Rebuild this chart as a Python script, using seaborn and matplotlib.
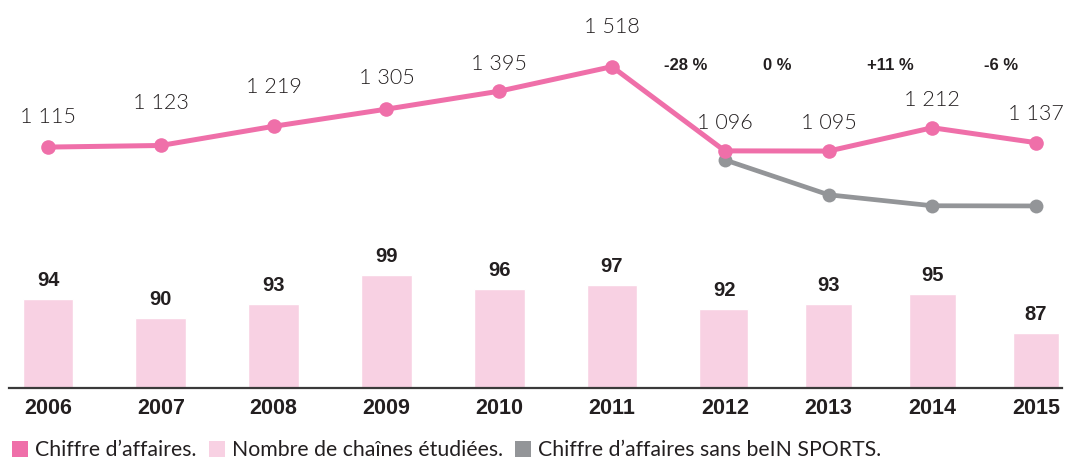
import matplotlib
matplotlib.use("Agg")
import matplotlib.pyplot as plt
from matplotlib.lines import Line2D
import seaborn as sns
import pandas as pd
import numpy as np

# Data
years = [2006, 2007, 2008, 2009, 2010, 2011, 2012, 2013, 2014, 2015]
revenue = [1115, 1123, 1219, 1305, 1395, 1518, 1096, 1095, 1212, 1137]
channels = [94, 90, 93, 99, 96, 97, 92, 93, 95, 87]
years_excl = [2012, 2013, 2014, 2015]
revenue_excl = [1051, 876, 821, 820]
legend_labels = ["Chiffre d\u2019affaires.", "Nombre de cha\u00eenes \u00e9tudi\u00e9es.",
                 "Chiffre d\u2019affaires sans beIN SPORTS."]

PINK = "#EF6FA9"
LIGHT_PINK = "#F8D1E3"
GREY = "#939598"
TEXT = "#231F20"
LIGHT_FONT = ["Lato", "DejaVu Sans"]
BOLD_FONT = ["Liberation Sans", "DejaVu Sans"]

sns.set_theme(style="white")
plt.rcParams["font.family"] = LIGHT_FONT

df = pd.DataFrame({"year": years, "revenue": revenue, "channels": channels})
df_excl = pd.DataFrame({"year": years_excl, "revenue": revenue_excl})

# The years after 2012 are set a little closer together on the time axis
R = 0.92


def fwd(x):
    x = np.asarray(x, dtype=float)
    return np.where(x <= 2012, x - 2006, 6 + (x - 2012) * R)


def inv(u):
    u = np.asarray(u, dtype=float)
    return np.where(u <= 6, u + 2006, 2012 + (u - 6) / R)


fig = plt.figure(figsize=(10.67, 4.59), dpi=100)
W, H = 1067, 459
x_lo, x_hi = 2005.654, 2015.25
left, width = 9 / W, 1053 / W

# Lower panel: number of channels
ax_bar = fig.add_axes([left, 1 - 388 / H, width, 158 / H])
sns.barplot(data=df, x="year", y="channels", native_scale=True, width=0.45,
            color=LIGHT_PINK, saturation=1, ax=ax_bar)
ax_bar.set_xscale("function", functions=(fwd, inv))
ax_bar.set_xlim(x_lo, x_hi)
ax_bar.set_ylim(75.6, 108.3)
ax_bar.set_xlabel("")
ax_bar.set_ylabel("")
ax_bar.set_yticks([])
ax_bar.set_xticks(years)
ax_bar.set_xticks([], minor=True)
ax_bar.set_xticklabels([str(y) for y in years], fontsize=15.5, fontweight="bold",
                       family=BOLD_FONT, color=TEXT)
ax_bar.tick_params(axis="x", which="both", length=0, pad=7)
for s in ["top", "left", "right"]:
    ax_bar.spines[s].set_visible(False)
ax_bar.spines["bottom"].set_color("#3A3A3A")
ax_bar.spines["bottom"].set_linewidth(1.6)
for p, v in zip(ax_bar.patches, channels):
    ax_bar.annotate(str(v), (p.get_x() + p.get_width() / 2, p.get_height()),
                    xytext=(0, 6.5), textcoords="offset points", ha="center",
                    va="bottom", fontsize=14.5, fontweight="bold",
                    family=BOLD_FONT, color=TEXT)

# Upper panel: revenue
ax_line = fig.add_axes([left, 1 - 230 / H, width, 230 / H])
sns.lineplot(data=df_excl, x="year", y="revenue", color=GREY, linewidth=3.4,
             marker="o", markersize=10, markeredgewidth=0, ax=ax_line)
sns.lineplot(data=df, x="year", y="revenue", color=PINK, linewidth=3.6,
             marker="o", markersize=10.5, markeredgewidth=0, ax=ax_line)
ax_line.set_xscale("function", functions=(fwd, inv))
ax_line.set_xlim(x_lo, x_hi)
ax_line.set_ylim(699.5, 1852)
ax_line.axis("off")

label_dy = [30, 42, 39, 31, 27, 40, 28, 28, 28, 29]
for x, v, dy in zip(years, revenue, label_dy):
    ax_line.annotate(f"{v:,}".replace(",", " "), (x, v),
                     xytext=(0, dy), textcoords="offset pixels", ha="center",
                     va="center", fontsize=15.5, fontweight=300, color=TEXT)

# Year-on-year change labels
pct_x = [2011.65, 2012.51, 2013.60, 2014.66]
for i, xp in zip(range(6, 10), pct_x):
    change = int(round((revenue[i] / revenue[i - 1] - 1) * 100))
    txt = f"{change:+d} %" if change != 0 else "0 %"
    ax_line.text(xp, 1526, txt, ha="center", va="center",
                 fontsize=12, fontweight="bold", family=BOLD_FONT, color=TEXT)

handles = [Line2D([], [], linestyle="none", marker="s", markersize=11,
                  markerfacecolor=c, markeredgewidth=0)
           for c in (PINK, LIGHT_PINK, GREY)]
fig.legend(handles, legend_labels, loc="lower left", bbox_to_anchor=(0.0, -0.03),
           ncol=3, frameon=False, handlelength=0.7, handletextpad=0.35,
           columnspacing=0.6, prop={"family": LIGHT_FONT, "size": 15.3},
           labelcolor=TEXT, borderaxespad=0.2)

fig.savefig("out.png", dpi=100)
